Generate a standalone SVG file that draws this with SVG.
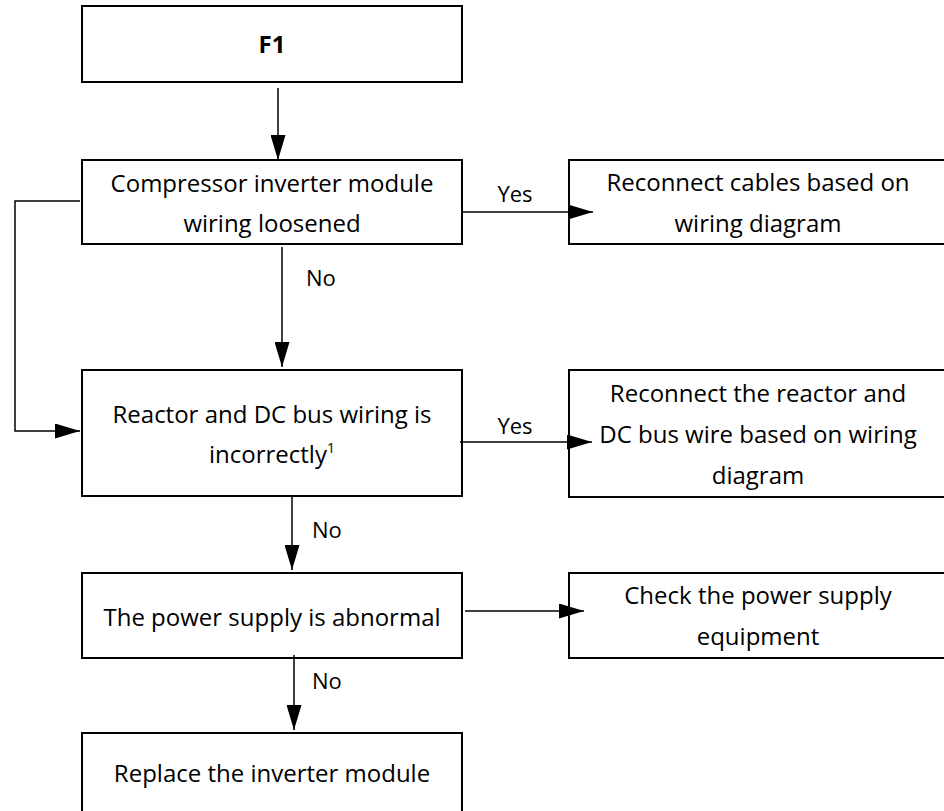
<svg xmlns="http://www.w3.org/2000/svg" width="944" height="811" viewBox="0 0 944 811">
<style>
.box{fill:#fff;stroke:#000;stroke-width:2}
.t{font-family:"Open Sans","Liberation Sans",sans-serif;font-size:24px;fill:#000;text-anchor:middle}
.lbl{font-family:"Open Sans","Liberation Sans",sans-serif;font-size:22px;fill:#000}
.c{fill:none;stroke:#000;stroke-width:1.5}
</style>
<defs>
<marker id="ah" markerUnits="userSpaceOnUse" markerWidth="25" markerHeight="15" refX="25" refY="7.5" orient="auto">
<path d="M0,0 L25,7.5 L0,15 z" fill="#000"/>
</marker>
</defs>
<rect width="944" height="811" fill="#fff"/>
<g id="n_f1">
<rect class="box" x="82" y="6" width="380" height="76"/>
<text class="t" x="272" y="53" font-weight="bold">F1</text>
</g>
<g id="n_loose">
<rect class="box" x="82" y="160" width="380" height="84"/>
<text class="t" x="272" y="192">Compressor inverter module</text>
<text class="t" x="272" y="232">wiring loosened</text>
</g>
<g id="n_reconnect">
<rect class="box" x="569" y="160" width="390" height="84"/>
<text class="t" x="758" y="191">Reconnect cables based on</text>
<text class="t" x="758" y="232">wiring diagram</text>
</g>
<g id="n_reactor">
<rect class="box" x="82" y="370" width="380" height="126"/>
<text class="t" x="272" y="423">Reactor and DC bus wiring is</text>
<text class="t" x="272" y="463">incorrectly<tspan font-size="14" dy="-10">1</tspan></text>
</g>
<g id="n_reconnect2">
<rect class="box" x="569" y="370" width="390" height="127"/>
<text class="t" x="758" y="402">Reconnect the reactor and</text>
<text class="t" x="758" y="443">DC bus wire based on wiring</text>
<text class="t" x="758" y="484">diagram</text>
</g>
<g id="n_power">
<rect class="box" x="82" y="573" width="380" height="85"/>
<text class="t" x="272" y="626">The power supply is abnormal</text>
</g>
<g id="n_check">
<rect class="box" x="569" y="573" width="390" height="85"/>
<text class="t" x="758" y="604">Check the power supply</text>
<text class="t" x="758" y="645">equipment</text>
</g>
<g id="n_replace">
<rect class="box" x="82" y="733" width="380" height="90"/>
<text class="t" x="272" y="782">Replace the inverter module</text>
</g>
<g id="connectors">
<line class="c" x1="278" y1="88" x2="278" y2="160" marker-end="url(#ah)"/>
<line class="c" x1="463" y1="212" x2="593" y2="212" marker-end="url(#ah)"/>
<line class="c" x1="282" y1="247" x2="282" y2="367" marker-end="url(#ah)"/>
<polyline class="c" points="80,201 15,201 15,431 80,431" marker-end="url(#ah)"/>
<line class="c" x1="460" y1="442" x2="592" y2="442" marker-end="url(#ah)"/>
<line class="c" x1="292" y1="496" x2="292" y2="570" marker-end="url(#ah)"/>
<line class="c" x1="465" y1="611" x2="584" y2="611" marker-end="url(#ah)"/>
<line class="c" x1="294" y1="655" x2="294" y2="730" marker-end="url(#ah)"/>
<text class="lbl" x="515" y="202" text-anchor="middle">Yes</text>
<text class="lbl" x="306" y="286">No</text>
<text class="lbl" x="515" y="434" text-anchor="middle">Yes</text>
<text class="lbl" x="312" y="538">No</text>
<text class="lbl" x="312" y="689">No</text>
</g>
</svg>
